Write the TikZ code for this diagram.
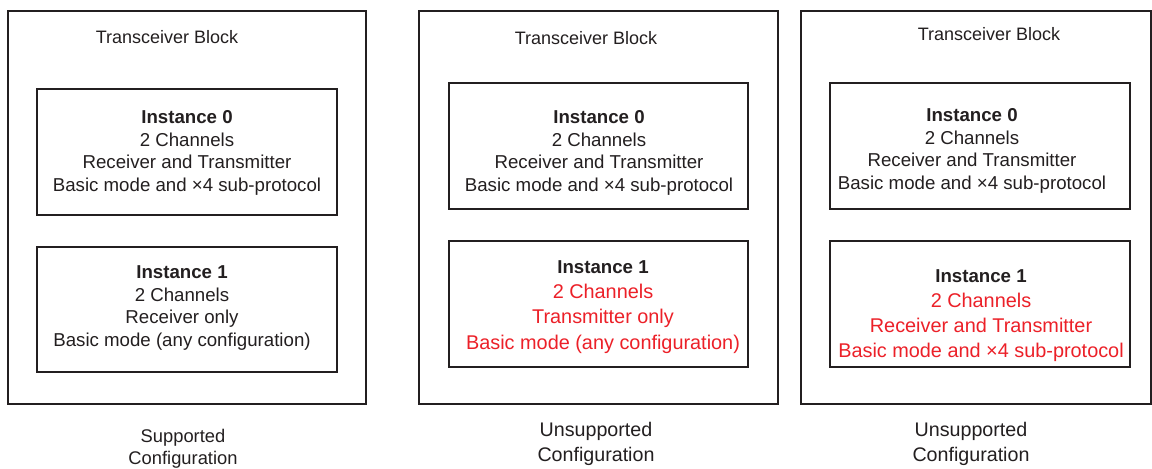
\documentclass[tikz,border=0pt]{standalone}
\usepackage{fontspec}
\setmainfont{Liberation Sans}
\usetikzlibrary{fit}
\definecolor{ink}{RGB}{35,31,32}
\definecolor{warn}{RGB}{236,32,40}
\newcommand{\blk}{\fontsize{14}{17}\selectfont}
\newcommand{\rd}{\color{warn}\fontsize{14.9}{18.75}\selectfont}
\begin{document}
\begin{tikzpicture}[x=0.75pt,y=-0.75pt,
  frame/.style={draw=ink,line width=0.9pt,inner sep=0pt,fill=none},
  ttl/.style={text=ink,font=\fontsize{13.5}{16}\selectfont,inner sep=0pt},
  body/.style={text=ink,align=center,inner sep=0pt,font=\blk},
  capS/.style={text=ink,align=center,inner sep=0pt,font=\fontsize{13.75}{16.5}\selectfont},
  capU/.style={text=ink,align=center,inner sep=0pt,font=\fontsize{14.75}{18.75}\selectfont}]
\useasboundingbox[fill=white] (0,0) rectangle (1152,468);

% Panel 1
\node[frame,fit={(8,11) (366,404)}] (p1) {};
\node[ttl] (p1t) at (167,37) {Transceiver Block};
\node[frame,fit={(37,89) (337,215)}] (p1a) {};
\node[frame,fit={(37,247) (337,372)}] (p1b) {};
\node[body] (p1at) at (187,153) {\textbf{Instance 0}\\2 Channels\\Receiver and Transmitter\\Basic mode and ×4 sub-protocol};
\node[body] (p1bt) at (182,308) {\textbf{Instance 1}\\2 Channels\\Receiver only\\Basic mode (any configuration)};
\node[capS] (p1c) at (183,449) {Supported\\Configuration};

% Panel 2
\node[frame,fit={(419,11) (778,404)}] (p2) {};
\node[ttl] (p2t) at (586,38) {Transceiver Block};
\node[frame,fit={(449,83) (748,209)}] (p2a) {};
\node[frame,fit={(449,241) (748,367)}] (p2b) {};
\node[body] (p2at) at (599,153) {\textbf{Instance 0}\\2 Channels\\Receiver and Transmitter\\Basic mode and ×4 sub-protocol};
\node[body] (p2bt) at (603,307) {\textbf{Instance 1}\\[1.9pt]\rd 2 Channels\\[1.9pt]\rd Transmitter only\\[1.9pt]\rd Basic mode (any configuration)};
\node[capU] (p2c) at (596,444) {Unsupported\\Configuration};

% Panel 3
\node[frame,fit={(801,11) (1151,404)}] (p3) {};
\node[ttl] (p3t) at (989,34) {Transceiver Block};
\node[frame,fit={(830,83) (1130,209)}] (p3a) {};
\node[frame,fit={(830,241) (1130,367)}] (p3b) {};
\node[body] (p3at) at (972,151) {\textbf{Instance 0}\\2 Channels\\Receiver and Transmitter\\Basic mode and ×4 sub-protocol};
\node[body] (p3bt) at (981,315.5) {\textbf{Instance 1}\\[1.9pt]\rd 2 Channels\\[1.9pt]\rd Receiver and Transmitter\\[1.9pt]\rd Basic mode and ×4 sub-protocol};
\node[capU] (p3c) at (971,444) {Unsupported\\Configuration};
\end{tikzpicture}
\end{document}
